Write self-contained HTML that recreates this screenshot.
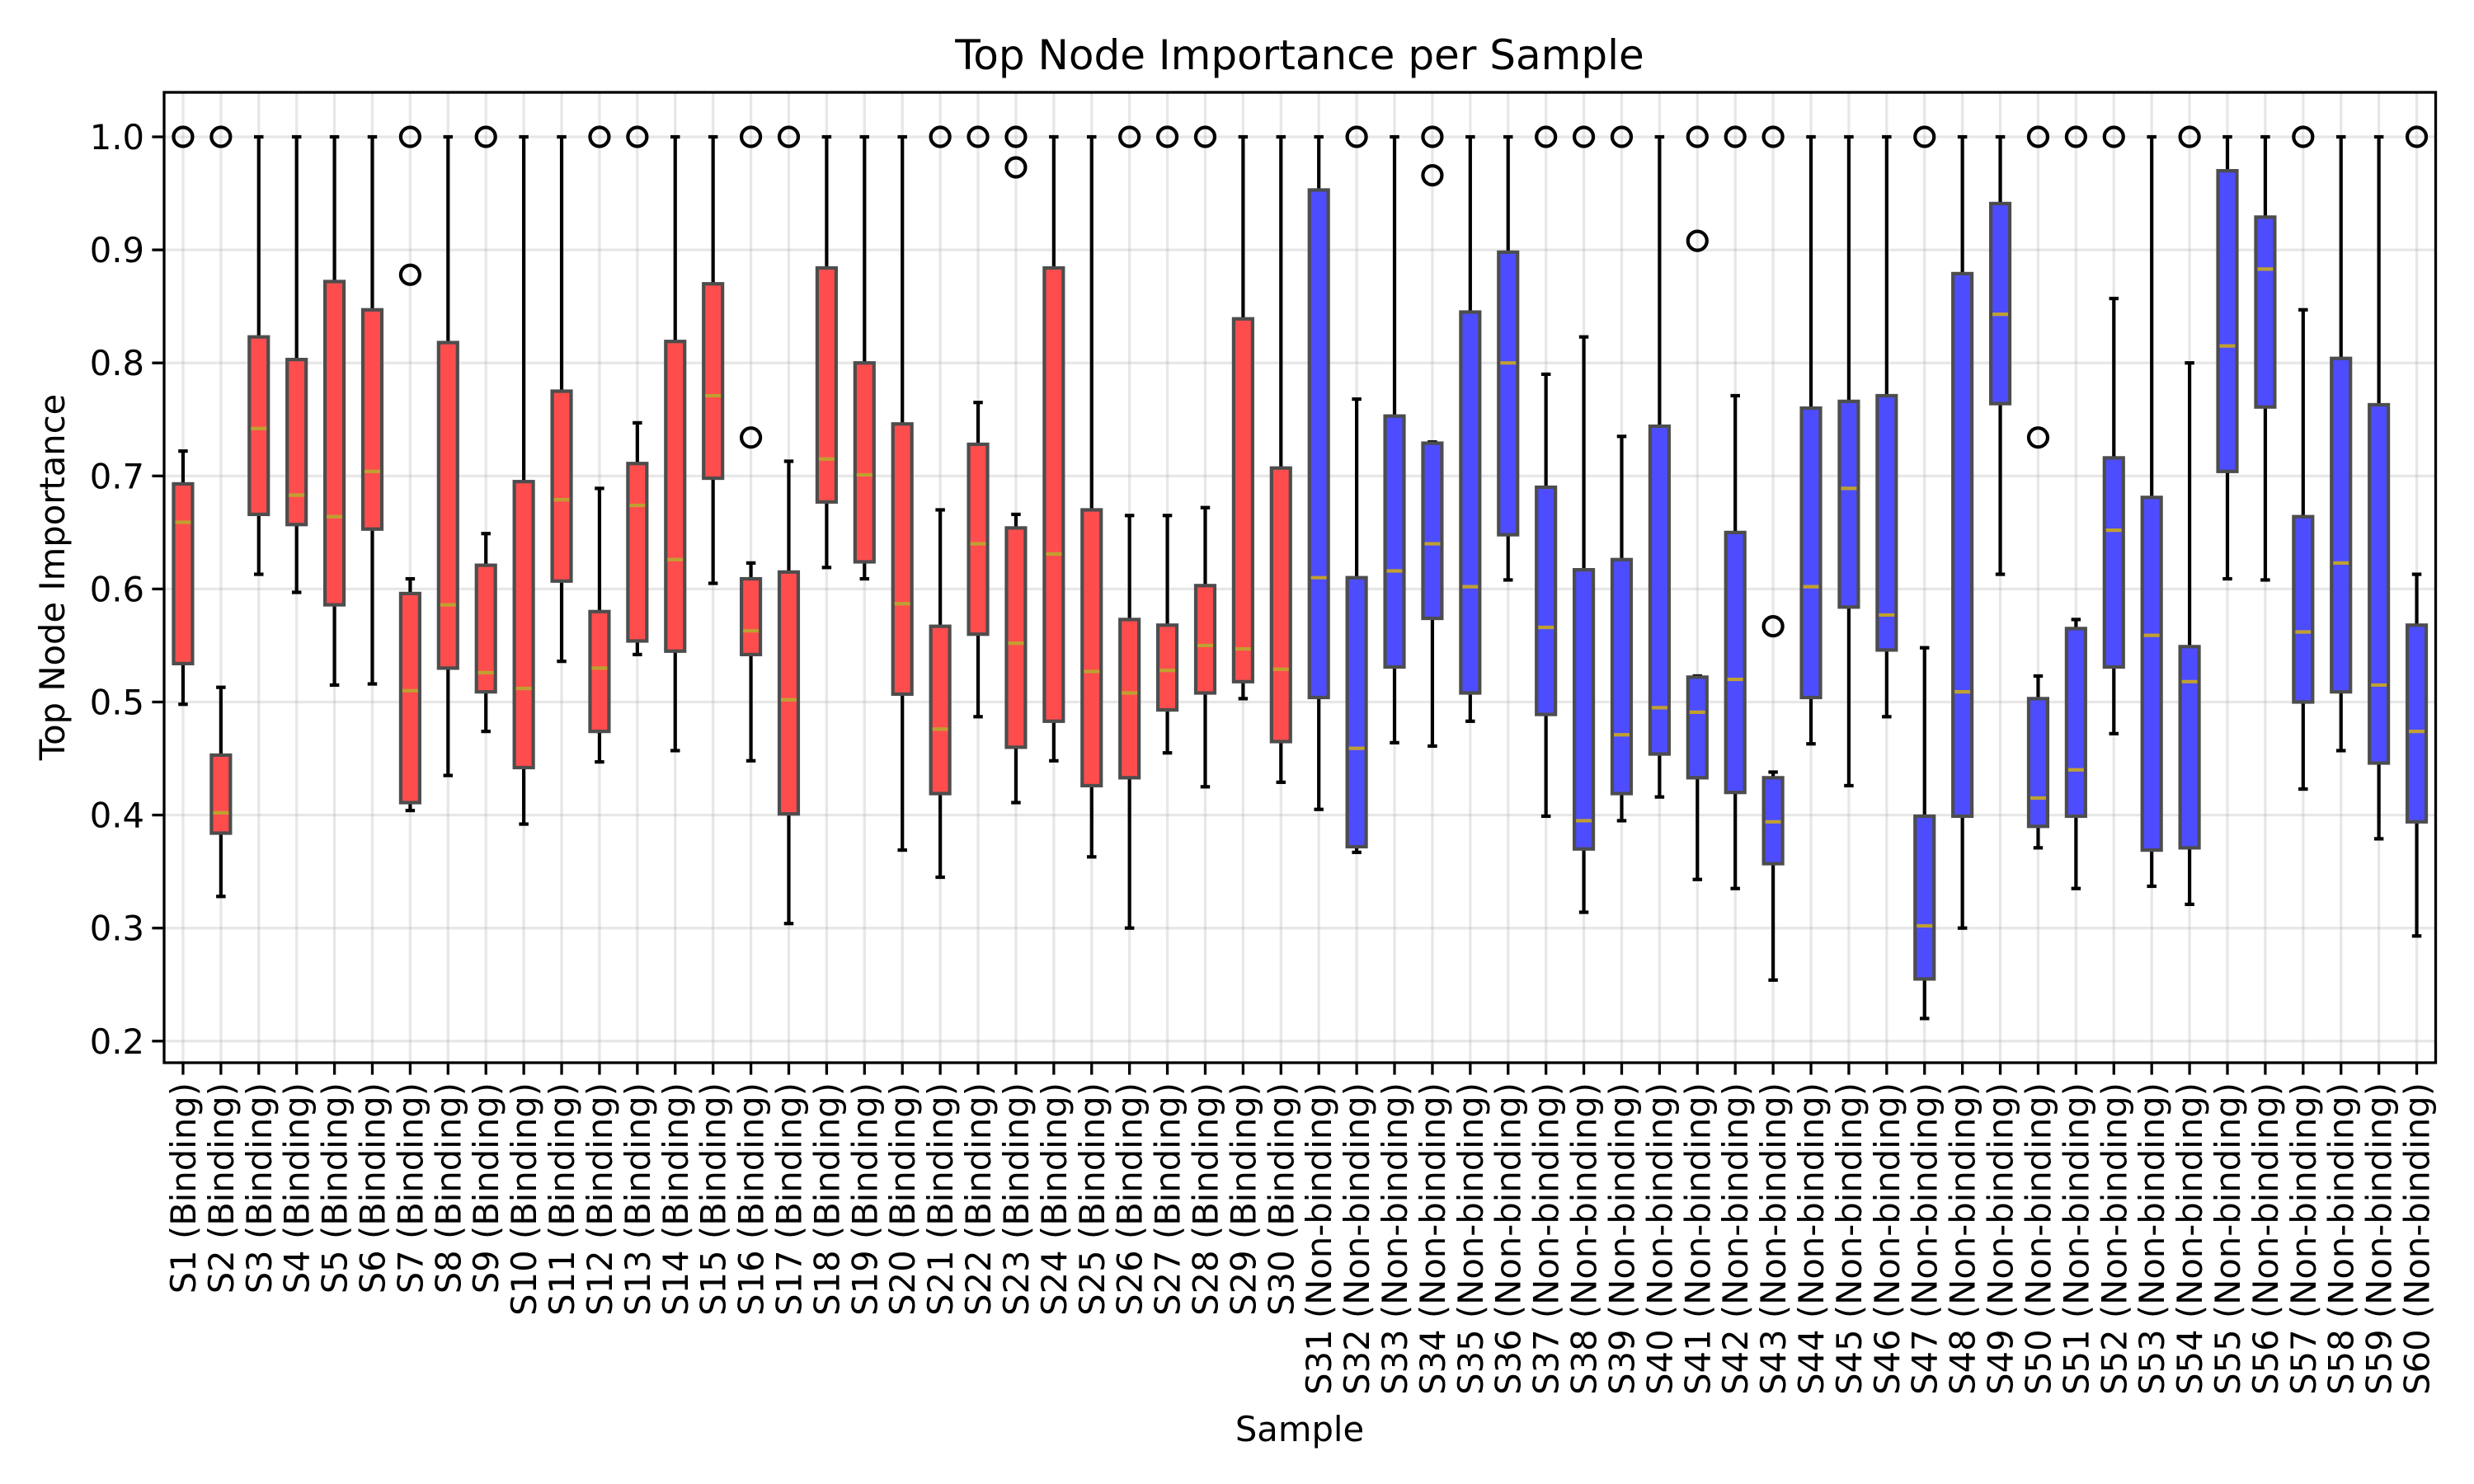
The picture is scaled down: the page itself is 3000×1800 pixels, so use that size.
<!DOCTYPE html>
<html><head><meta charset="utf-8">
<style>
html,body{margin:0;padding:0;background:#fff;}
svg{display:block;font-family:"DejaVu Sans","Liberation Sans",sans-serif;}
</style></head>
<body>
<svg id="chart" width="3000" height="1800" viewBox="0 0 3000 1800" xmlns="http://www.w3.org/2000/svg">
<rect x="0" y="0" width="3000" height="1800" fill="#fff"/>
<text x="1576" y="84" font-size="50" text-anchor="middle" fill="#000">Top Node Importance per Sample</text>
<text x="1576" y="1748" font-size="41.7" text-anchor="middle" fill="#000">Sample</text>
<text transform="translate(78,700) rotate(-90)" font-size="41.7" text-anchor="middle" fill="#000">Top Node Importance</text>
<g id="grid"></g>
<g id="boxes"></g>
<g id="axes"></g>
</svg>
<script>
const lows  =[0.498,0.328,0.613,0.597,0.515,0.516,0.404,0.435,0.474,0.392,0.536,0.447,0.542,0.457,0.605,0.448,0.304,0.619,0.609,0.369,0.345,0.487,0.411,0.448,0.363,0.300,0.455,0.425,0.503,0.429,0.405,0.367,0.464,0.461,0.483,0.608,0.399,0.314,0.395,0.416,0.343,0.335,0.254,0.463,0.426,0.487,0.220,0.300,0.613,0.371,0.335,0.472,0.337,0.321,0.609,0.608,0.423,0.457,0.379,0.293];
const q1s   =[0.534,0.384,0.666,0.657,0.586,0.653,0.411,0.530,0.509,0.442,0.607,0.474,0.554,0.545,0.698,0.542,0.401,0.677,0.624,0.507,0.419,0.560,0.460,0.483,0.426,0.433,0.493,0.508,0.518,0.465,0.504,0.372,0.531,0.574,0.508,0.648,0.489,0.370,0.419,0.454,0.433,0.420,0.357,0.504,0.584,0.546,0.255,0.399,0.764,0.390,0.399,0.531,0.369,0.371,0.704,0.761,0.500,0.509,0.446,0.394];
const meds  =[0.659,0.402,0.742,0.683,0.664,0.704,0.510,0.586,0.526,0.512,0.679,0.530,0.674,0.626,0.771,0.563,0.502,0.715,0.701,0.587,0.476,0.640,0.552,0.631,0.527,0.508,0.528,0.550,0.547,0.529,0.610,0.459,0.616,0.640,0.602,0.800,0.566,0.395,0.471,0.495,0.491,0.520,0.394,0.602,0.689,0.577,0.302,0.509,0.843,0.415,0.440,0.652,0.559,0.518,0.815,0.883,0.562,0.623,0.515,0.474];
const q3s   =[0.693,0.453,0.823,0.803,0.872,0.847,0.596,0.818,0.621,0.695,0.775,0.580,0.711,0.819,0.870,0.609,0.615,0.884,0.800,0.746,0.567,0.728,0.654,0.884,0.670,0.573,0.568,0.603,0.839,0.707,0.953,0.610,0.753,0.729,0.845,0.898,0.690,0.617,0.626,0.744,0.522,0.650,0.433,0.760,0.766,0.771,0.399,0.879,0.941,0.503,0.565,0.716,0.681,0.549,0.970,0.929,0.664,0.804,0.763,0.568];
const highs =[0.722,0.513,1.0,1.0,1.0,1.0,0.609,1.0,0.649,1.0,1.0,0.689,0.747,1.0,1.0,0.623,0.713,1.0,1.0,1.0,0.670,0.765,0.666,1.0,1.0,0.665,0.665,0.672,1.0,1.0,1.0,0.768,1.0,0.730,1.0,1.0,0.790,0.823,0.735,1.0,0.523,0.771,0.438,1.0,1.0,1.0,0.548,1.0,1.0,0.523,0.573,0.857,1.0,0.800,1.0,1.0,0.847,1.0,1.0,0.613];
const outliers=[[1.0],[1.0],[],[],[],[],[1.0,0.878],[],[1.0],[],[],[1.0],[1.0],[],[],[1.0,0.734],[1.0],[],[],[],[1.0],[1.0],[1.0,0.973],[],[],[1.0],[1.0],[1.0],[],[],[],[1.0],[],[1.0,0.966],[],[],[1.0],[1.0],[1.0],[],[1.0,0.908],[1.0],[1.0,0.567],[],[],[],[1.0],[],[],[1.0,0.734],[1.0],[1.0],[],[1.0],[],[],[1.0],[],[],[1.0]];
const yTicks=[0.2,0.3,0.4,0.5,0.6,0.7,0.8,0.9,1.0];
const yTickLabels=["0.2","0.3","0.4","0.5","0.6","0.7","0.8","0.9","1.0"];
const nBinding=30;

const NS="http://www.w3.org/2000/svg";
const L=199,R=2953.5,T=112,B=1289;
const n=lows.length;
const xs=i=>L+(i+0.5)*(R-L)/n;
const ys=v=>166+(1.0-v)*1371;
function mk(tag,attrs,parent){const e=document.createElementNS(NS,tag);for(const k in attrs)e.setAttribute(k,attrs[k]);parent.appendChild(e);return e;}
const grid=document.getElementById('grid'),boxes=document.getElementById('boxes'),axes=document.getElementById('axes');
yTicks.forEach((t,i)=>{
  const g=mk('line',{x1:L,x2:R,y1:ys(t),y2:ys(t),stroke:'#b0b0b0','stroke-opacity':0.3,'stroke-width':3.3},grid);
  
  
  const tk=mk('line',{x1:L-14.6,x2:L,y1:ys(t),y2:ys(t),stroke:'#000','stroke-width':3.3},axes);
  
  
  const tx=mk('text',{x:L-24,y:ys(t)+15,'font-size':41.7,'text-anchor':'end',fill:'#000'},axes);
  tx.textContent=yTickLabels[i];
  
  
});
const bw=(R-L)/n*0.5, cw=bw*0.5;
for(let i=0;i<n;i++){
  const x=xs(i);
  const gl=mk('line',{x1:x,x2:x,y1:T,y2:B,stroke:'#b0b0b0','stroke-opacity':0.3,'stroke-width':3.3},grid);
  
  
  const g=mk('g',{},boxes);
  
  
  const fill=i<nBinding?'#ff4d4d':'#4d4dff';
  mk('line',{x1:x,x2:x,y1:ys(highs[i]),y2:ys(q3s[i]),stroke:'#000','stroke-width':4.2},g);
  mk('line',{x1:x,x2:x,y1:ys(q1s[i]),y2:ys(lows[i]),stroke:'#000','stroke-width':4.2},g);
  mk('line',{x1:x-cw/2,x2:x+cw/2,y1:ys(highs[i]),y2:ys(highs[i]),stroke:'#000','stroke-width':4.2},g);
  mk('line',{x1:x-cw/2,x2:x+cw/2,y1:ys(lows[i]),y2:ys(lows[i]),stroke:'#000','stroke-width':4.2},g);
  mk('rect',{x:x-bw/2,y:ys(q3s[i]),width:bw,height:ys(q1s[i])-ys(q3s[i]),fill:fill,stroke:'#4d4d4d','stroke-width':4.2},g);
  mk('line',{x1:x-bw/2+2,x2:x+bw/2-2,y1:ys(meds[i]),y2:ys(meds[i]),stroke:'#c0a030','stroke-width':4.2},g);
  outliers[i].forEach(v=>{
    const c=mk('circle',{cx:x,cy:ys(v),r:11.5,fill:'none',stroke:'#000','stroke-width':4.2},g);
    
    
  });
  const tk=mk('line',{x1:x,x2:x,y1:B,y2:B+14.6,stroke:'#000','stroke-width':3.3},axes);
  
  
  const tx=mk('text',{transform:`translate(${x+15},${B+24}) rotate(-90)`,'font-size':41.7,'text-anchor':'end',fill:'#000'},axes);
  tx.textContent='S'+(i+1)+(i<nBinding?' (Binding)':' (Non-binding)');
  
  
}
const fr=mk('rect',{x:L,y:T,width:R-L,height:B-T,fill:'none',stroke:'#000','stroke-width':3.3},axes);


</script>
</body></html>
